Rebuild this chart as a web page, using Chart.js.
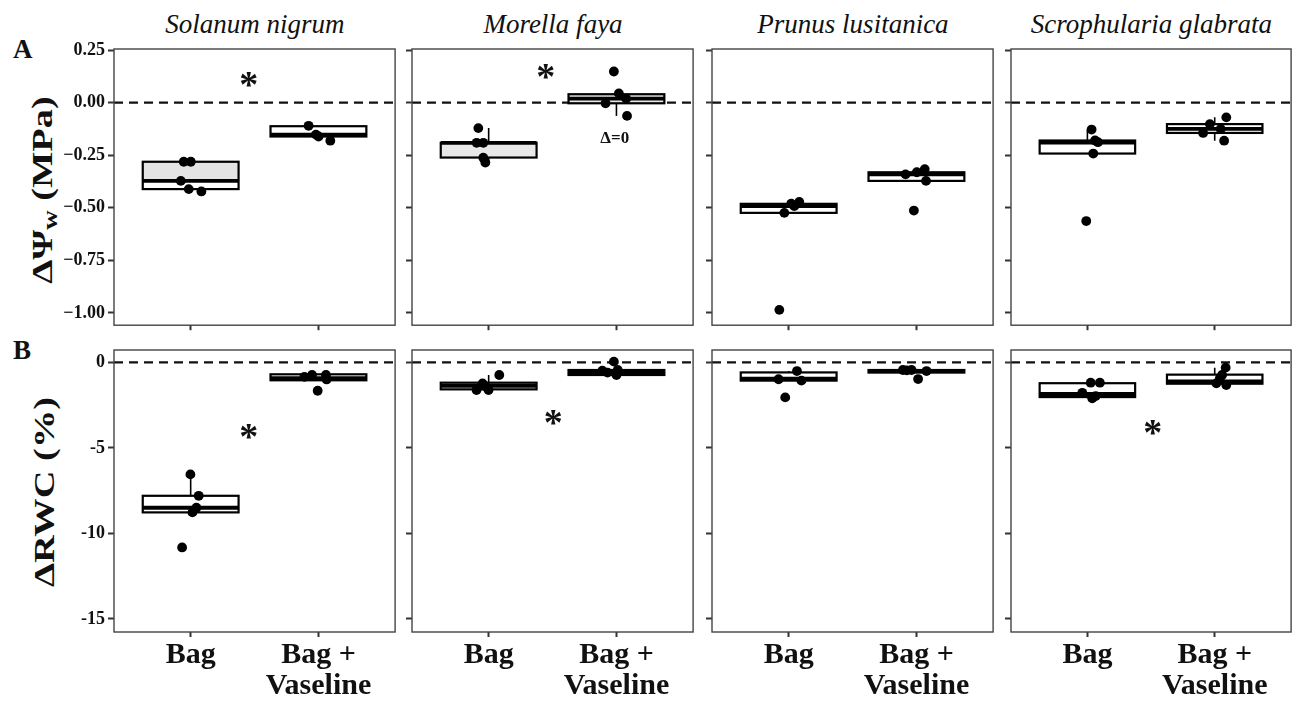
<!DOCTYPE html>
<html><head><meta charset="utf-8">
<script src="https://cdn.jsdelivr.net/npm/chart.js@4.4.0/dist/chart.umd.min.js"></script>
<style>
html,body{margin:0;padding:0;background:#fff;width:1293px;height:703px;overflow:hidden;position:relative;font-family:"Liberation Serif",serif;color:#111;}
canvas{position:absolute;}
.t{position:absolute;white-space:nowrap;color:#111;line-height:1;}
</style></head><body>
<script>
// ---------------- data ----------------
const species = ['Solanum nigrum', 'Morella faya', 'Prunus lusitanica', 'Scrophularia glabrata'];
const treatments = [['Bag'], ['Bag +', 'Vaseline']];
const rowLetters = ['A', 'B'];
const psiTicks = [0.25, 0, -0.25, -0.5, -0.75, -1];
const rwcTicks = [0, -5, -10, -15];
const psiRange = [-1.058, 0.255];
const rwcRange = [-15.76, 0.72];
const refLine = 0;

// box statistics per species: [Bag, Bag + Vaseline]
const psiWhiskerLow  = [[-0.422, -0.181], [-0.285, -0.063], [-0.524, -0.372], [-0.242, -0.181]];
const psiQ1          = [[-0.411, -0.161], [-0.261, -0.003], [-0.524, -0.372], [-0.242, -0.144]];
const psiMedian      = [[-0.372, -0.152], [-0.191,  0.019], [-0.492, -0.341], [-0.190, -0.125]];
const psiQ3          = [[-0.281, -0.112], [-0.191,  0.040], [-0.481, -0.331], [-0.180, -0.102]];
const psiWhiskerHigh = [[-0.281, -0.110], [-0.121,  0.040], [-0.472, -0.316], [-0.128, -0.070]];

const rwcWhiskerLow  = [[-8.77, -1.05], [-1.62, -0.74], [-1.07, -0.60], [-2.10, -1.33]];
const rwcQ1          = [[-8.77, -1.05], [-1.58, -0.74], [-1.07, -0.60], [-2.03, -1.25]];
const rwcMedian      = [[-8.50, -0.92], [-1.37, -0.60], [-0.96, -0.50], [-1.85, -1.12]];
const rwcQ3          = [[-7.80, -0.70], [-1.19, -0.45], [-0.59, -0.45], [-1.22, -0.72]];
const rwcWhiskerHigh = [[-6.55, -0.70], [-0.74, -0.45], [-0.51, -0.45], [-1.19, -0.31]];

// individual observations [x position (jittered), value]
const psiPoints = [
  [[0.946,-0.281],[1.001,-0.281],[0.923,-0.372],[0.985,-0.411],[1.084,-0.422],[1.923,-0.110],[1.980,-0.152],[2.001,-0.161],[2.093,-0.181]],
  [[0.919,-0.121],[0.906,-0.191],[0.958,-0.191],[0.958,-0.262],[0.974,-0.285],[1.980,0.148],[2.019,0.044],[2.076,0.019],[1.915,-0.003],[2.083,-0.063]],
  [[0.927,-0.985],[0.966,-0.524],[1.044,-0.492],[1.083,-0.472],[1.020,-0.480],[1.915,-0.341],[2.065,-0.316],[2.075,-0.372],[1.980,-0.513],[2.003,-0.331]],
  [[1.033,-0.128],[1.083,-0.188],[1.046,-0.242],[0.991,-0.563],[1.060,-0.180],[2.091,-0.070],[1.962,-0.102],[2.047,-0.125],[1.909,-0.144],[2.074,-0.181]]
];
const rwcPoints = [
  [[0.998,-6.55],[1.063,-7.80],[1.045,-8.50],[1.014,-8.77],[0.933,-10.82],[1.950,-0.74],[2.059,-0.74],[2.064,-1.00],[1.994,-1.66],[1.890,-0.85]],
  [[1.083,-0.74],[0.905,-1.62],[0.999,-1.62],[0.952,-1.23],[0.973,-1.40],[1.980,0.04],[1.890,-0.49],[2.000,-0.74],[1.930,-0.60],[2.010,-0.45]],
  [[1.065,-0.51],[0.921,-0.99],[1.100,-1.07],[0.973,-2.05],[1.894,-0.45],[1.962,-0.45],[2.079,-0.51],[2.013,-0.98],[1.925,-0.47]],
  [[1.026,-1.19],[1.098,-1.19],[0.960,-1.78],[1.038,-2.10],[1.065,-1.97],[2.086,-0.31],[2.013,-1.23],[2.091,-1.33],[2.040,-0.95],[2.058,-0.74]]
];

// significance marks and notes [x, y]
const psiStars = [[1.455, 0.101], [1.447, 0.141], null, null];
const rwcStars = [[1.455, -4.15], [1.506, -3.33], null, [1.514, -3.92]];
const psiNotes = [null, [1.987, -0.169, 'Δ=0'], null, null];
const rwcNotes = [null, null, null, null];

// ---------------- layout / style ----------------
const colLeft = [114, 412, 712, 1011];
const colW = [282, 282, 282, 281];
const rowTop = [49, 350];
const rowH = [280, 282];
const FONT = '"Liberation Serif", "Times New Roman", serif';
const boxFillUpper = [[['#e4e4e4','#fff'],['#e8e8e8','#e8e8e8'],['#fff','#fff'],['#fff','#fff']],
                      [['#fff','#fff'],['#fff','#fff'],['#fff','#fff'],['#fff','#fff']]];
const boxFillLower = [[['#fff','#fff'],['#e8e8e8','#e8e8e8'],['#fff','#fff'],['#fff','#fff']],
                      [['#fff','#fff'],['#fff','#fff'],['#fff','#fff'],['#fff','#fff']]];

Chart.defaults.font.family = FONT;
Chart.defaults.font.size = 18;
Chart.defaults.font.weight = 'bold';
Chart.defaults.color = '#111';

function fmtPsi(v) {
  if (v === 0) return '0.00';
  return (v < 0 ? '\u2212' : '') + Math.abs(v).toFixed(2);
}
function fmtRwc(v) { return String(v); }

function makeChart(row, col) {
  const isPsi = row === 0;
  const YW = col === 0 ? 74 : 12;
  const PT = 14, PR = 4;
  const XH = isPsi ? 10 : 75;
  const cw = YW + colW[col] + PR, ch = PT + rowH[row] + XH;
  const cv = document.createElement('canvas');
  cv.width = cw; cv.height = ch;
  cv.style.left = (colLeft[col] - YW) + 'px';
  cv.style.top = (rowTop[row] - PT) + 'px';
  cv.style.width = cw + 'px'; cv.style.height = ch + 'px';
  document.body.appendChild(cv);

  const st = isPsi
    ? {lo: psiWhiskerLow[col], q1: psiQ1[col], med: psiMedian[col], q3: psiQ3[col], hi: psiWhiskerHigh[col]}
    : {lo: rwcWhiskerLow[col], q1: rwcQ1[col], med: rwcMedian[col], q3: rwcQ3[col], hi: rwcWhiskerHigh[col]};
  const pts = isPsi ? psiPoints[col] : rwcPoints[col];
  const star = isPsi ? psiStars[col] : rwcStars[col];
  const note = isPsi ? psiNotes[col] : rwcNotes[col];
  const ticks = isPsi ? psiTicks : rwcTicks;
  const range = isPsi ? psiRange : rwcRange;
  const fmt = isPsi ? fmtPsi : fmtRwc;

  const plug = {
    id: 'box' + row + col,
    beforeDatasetsDraw(chart) {
      const {ctx, chartArea: a, scales: {x, y}} = chart;
      ctx.save();
      const y0 = y.getPixelForValue(refLine);
      ctx.strokeStyle = '#111'; ctx.lineWidth = 2.2; ctx.setLineDash([9, 6]);
      ctx.beginPath(); ctx.moveTo(a.left, y0); ctx.lineTo(a.right, y0); ctx.stroke();
      ctx.setLineDash([]);
      for (let k = 0; k < 2; k++) {
        const xc = k + 1;
        const xl = x.getPixelForValue(xc - 0.375), xr = x.getPixelForValue(xc + 0.375), xm = x.getPixelForValue(xc);
        const pq1 = y.getPixelForValue(st.q1[k]), pq3 = y.getPixelForValue(st.q3[k]);
        const pm = y.getPixelForValue(st.med[k]);
        const plo = y.getPixelForValue(st.lo[k]), phi = y.getPixelForValue(st.hi[k]);
        ctx.strokeStyle = '#000'; ctx.lineWidth = 1.6;
        ctx.beginPath(); ctx.moveTo(xm, pq3); ctx.lineTo(xm, phi); ctx.moveTo(xm, pq1); ctx.lineTo(xm, plo); ctx.stroke();
        ctx.fillStyle = boxFillUpper[row][col][k]; ctx.fillRect(xl, pq3, xr - xl, pm - pq3);
        ctx.fillStyle = boxFillLower[row][col][k]; ctx.fillRect(xl, pm, xr - xl, pq1 - pm);
        ctx.lineWidth = 2.2; ctx.strokeRect(xl, pq3, xr - xl, pq1 - pq3);
        ctx.lineWidth = 3.8;
        ctx.beginPath(); ctx.moveTo(xl, pm); ctx.lineTo(xr, pm); ctx.stroke();
      }
      ctx.restore();
    },
    afterDatasetsDraw(chart) {
      const {ctx, chartArea: a, scales: {x, y}} = chart;
      ctx.save();
      ctx.strokeStyle = '#444'; ctx.lineWidth = 1.4;
      ctx.strokeRect(a.left, a.top, a.right - a.left, a.bottom - a.top);
      ctx.fillStyle = '#111';
      if (star) {
        const sz = 38;
        ctx.font = 'bold ' + sz + 'px ' + FONT;
        ctx.textAlign = 'center'; ctx.textBaseline = 'middle';
        ctx.fillText('*', x.getPixelForValue(star[0]), y.getPixelForValue(star[1]) + 0.16 * sz);
      }
      if (note) {
        ctx.font = 'bold 17px ' + FONT;
        ctx.textAlign = 'center'; ctx.textBaseline = 'middle';
        ctx.fillText(note[2], x.getPixelForValue(note[0]), y.getPixelForValue(note[1]));
      }
      ctx.restore();
    }
  };

  new Chart(cv, {
    type: 'scatter',
    data: {datasets: [{
      data: pts.map(p => ({x: p[0], y: p[1]})),
      pointRadius: 4.9, pointHoverRadius: 4.9,
      pointBackgroundColor: '#000', pointBorderColor: '#000', pointBorderWidth: 0
    }]},
    options: {
      responsive: false, animation: false, events: [],
      layout: {padding: {top: PT, right: PR, left: 0, bottom: 0}},
      plugins: {legend: {display: false}, tooltip: {enabled: false}},
      scales: {
        x: {
          type: 'linear', min: 0.4, max: 2.6,
          afterBuildTicks: s => { s.ticks = [{value: 1}, {value: 2}]; },
          afterFit: s => { s.height = XH; },
          grid: {display: true, drawOnChartArea: false, drawTicks: true, tickLength: 5, tickWidth: 2, tickColor: '#333'},
          border: {display: false},
          ticks: {
            callback: (v, i) => isPsi ? '' : treatments[i],
            font: {family: FONT, size: 30, weight: 'bold', lineHeight: 1.05},
            color: '#111', padding: 2, maxRotation: 0, autoSkip: false
          }
        },
        y: {
          type: 'linear', min: range[0], max: range[1],
          afterBuildTicks: s => { s.ticks = ticks.map(v => ({value: v})); },
          afterFit: s => { s.width = YW; },
          grid: {display: true, drawOnChartArea: false, drawTicks: true, tickLength: 6, tickWidth: 2, tickColor: '#333'},
          border: {display: false},
          ticks: {
            callback: v => col === 0 ? fmt(v) : '',
            font: {family: FONT, size: 18, weight: 'bold'},
            color: '#111', padding: 3, autoSkip: false
          }
        }
      }
    },
    plugins: [plug]
  });
}

function addText(html, style) {
  const d = document.createElement('div');
  d.className = 't';
  d.innerHTML = html;
  Object.assign(d.style, style);
  document.body.appendChild(d);
  return d;
}
species.forEach((s, c) => {
  addText(s, {left: (colLeft[c] + colW[c] / 2 - 200) + 'px', width: '400px', textAlign: 'center',
    top: '11px', fontSize: '27px', fontStyle: 'italic'});
});
addText(rowLetters[0], {left: '13px', top: '36px', fontSize: '27px', fontWeight: 'bold'});
addText(rowLetters[1], {left: '13px', top: '337px', fontSize: '27px', fontWeight: 'bold'});
addText('ΔΨ<sub style="font-size:0.7em;vertical-align:-0.25em">w</sub> (MPa)',
  {left: '44px', top: '190px', fontSize: '30px', fontWeight: 'bold',
   transform: 'translate(-50%,-50%) rotate(-90deg) scale(1.28,1)'});
addText('ΔRWC (%)',
  {left: '44px', top: '492px', fontSize: '30px', fontWeight: 'bold',
   transform: 'translate(-50%,-50%) rotate(-90deg) scale(1.28,1)'});

for (let r = 0; r < 2; r++) for (let c = 0; c < 4; c++) makeChart(r, c);
</script>
</body></html>
